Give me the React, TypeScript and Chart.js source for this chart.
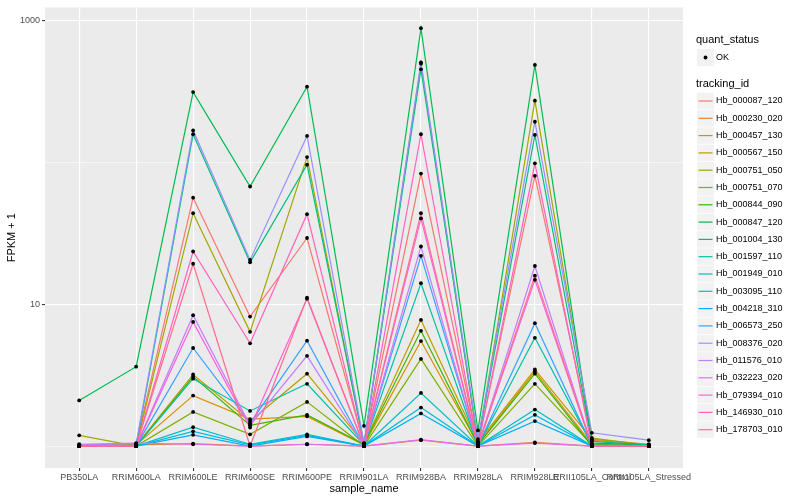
import { useEffect, useRef } from "react";
import { Chart, registerables } from "chart.js";

Chart.register(...registerables);

const categories = [
  "PB350LA",
  "RRIM600LA",
  "RRIM600LE",
  "RRIM600SE",
  "RRIM600PE",
  "RRIM901LA",
  "RRIM928BA",
  "RRIM928LA",
  "RRIM928LE",
  "RRII105LA_Control",
  "RRII105LA_Stressed",
];

const seriesNames = [
  "Hb_000087_120",
  "Hb_000230_020",
  "Hb_000457_130",
  "Hb_000567_150",
  "Hb_000751_050",
  "Hb_000751_070",
  "Hb_000844_090",
  "Hb_000847_120",
  "Hb_001004_130",
  "Hb_001597_110",
  "Hb_001949_010",
  "Hb_003095_110",
  "Hb_004218_310",
  "Hb_006573_250",
  "Hb_008376_020",
  "Hb_011576_010",
  "Hb_032223_020",
  "Hb_079394_010",
  "Hb_146930_010",
  "Hb_178703_010",
];

// FPKM + 1 per sample, in the order of `categories`
const hb_000087_120 = [1.02, 1.03, 56.6, 8.2, 29.4, 1.02, 83.8, 1.02, 80.7, 1.1, 1.02];
const hb_000230_020 = [1.0, 1.02, 1.04, 1.0, 1.03, 1.0, 1.1, 1.0, 1.06, 1.0, 1.0];
const hb_000457_130 = [1.01, 1.02, 2.27, 1.55, 1.62, 1.02, 5.51, 1.03, 3.36, 1.03, 1.01];
const hb_000567_150 = [1.0, 1.01, 3.2, 1.5, 3.24, 1.04, 7.77, 1.06, 3.47, 1.12, 1.03];
const hb_000751_050 = [1.19, 1.0, 44.0, 6.4, 109.6, 1.02, 500, 1.05, 274, 1.14, 1.01];
const hb_000751_070 = [1.0, 1.0, 1.74, 1.21, 2.05, 1.0, 4.12, 1.0, 2.75, 1.02, 1.0];
const hb_000844_090 = [1.01, 1.0, 3.09, 1.4, 1.66, 1.03, 6.51, 1.02, 3.24, 1.0, 1.0];
const hb_000847_120 = [2.1, 3.63, 315, 67.9, 344, 1.39, 889, 1.29, 490, 1.05, 1.02];
const hb_001004_130 = [1.0, 1.01, 158.7, 19.8, 96.8, 1.04, 456, 1.08, 157, 1.08, 1.02];
const hb_001597_110 = [1.0, 1.0, 2.99, 1.77, 2.75, 1.02, 14.1, 1.0, 5.81, 1.02, 1.0];
const hb_001949_010 = [1.0, 1.0, 1.36, 1.03, 1.21, 1.0, 2.37, 1.0, 1.81, 1.0, 1.0];
const hb_003095_110 = [1.0, 1.0, 1.27, 1.02, 1.19, 1.0, 1.87, 1.0, 1.66, 1.0, 1.0];
const hb_004218_310 = [1.0, 1.0, 1.2, 1.0, 1.17, 1.0, 1.7, 1.0, 1.5, 1.0, 1.0];
const hb_006573_250 = [1.0, 1.0, 4.92, 1.45, 5.54, 1.0, 22.0, 1.0, 7.36, 1.0, 1.0];
const hb_008376_020 = [1.02, 1.04, 169, 20.6, 154.5, 1.05, 511, 1.12, 194.5, 1.24, 1.1];
const hb_011576_010 = [1.0, 1.0, 8.38, 1.4, 4.33, 1.0, 25.6, 1.0, 18.65, 1.0, 1.0];
const hb_032223_020 = [1.03, 1.05, 1.03, 1.0, 1.03, 1.0, 1.11, 1.0, 1.05, 1.0, 1.0];
const hb_079394_010 = [1.0, 1.0, 7.52, 1.35, 10.96, 1.0, 40.4, 1.0, 14.9, 1.0, 1.0];
const hb_146930_010 = [1.0, 1.0, 23.6, 5.31, 43.3, 1.0, 158.7, 1.0, 98.9, 1.0, 1.0];
const hb_178703_010 = [1.0, 1.0, 19.35, 1.0, 11.14, 1.0, 44.0, 1.0, 15.95, 1.0, 1.0];

const seriesValues = [
  hb_000087_120,
  hb_000230_020,
  hb_000457_130,
  hb_000567_150,
  hb_000751_050,
  hb_000751_070,
  hb_000844_090,
  hb_000847_120,
  hb_001004_130,
  hb_001597_110,
  hb_001949_010,
  hb_003095_110,
  hb_004218_310,
  hb_006573_250,
  hb_008376_020,
  hb_011576_010,
  hb_032223_020,
  hb_079394_010,
  hb_146930_010,
  hb_178703_010,
];

const yTickValues = [1, 10, 100, 1000];
const yLabelled = [10, 1000];

const palette = [
  "#F8766D", "#EA8331", "#D89000", "#C09B00", "#A3A500",
  "#7CAE00", "#39B600", "#00BB4E", "#00BF7D", "#00C1A3",
  "#00BFC4", "#00BAE0", "#00B0F6", "#35A2FF", "#9590FF",
  "#C77CFF", "#E76BF3", "#FA62DB", "#FF62BC", "#FF6C91",
];

const FONT = '"Liberation Sans", Arial, Helvetica, sans-serif';

const bgPlugin = {
  id: "ggbg",
  beforeDraw(chart: any) {
    const { ctx, chartArea: a } = chart;
    ctx.save();
    ctx.fillStyle = "#FFFFFF";
    ctx.fillRect(0, 0, chart.width, chart.height);
    ctx.fillStyle = "#EBEBEB";
    ctx.fillRect(a.left, a.top, a.right - a.left, a.bottom - a.top);
    ctx.restore();
  },
};

const titlePlugin = {
  id: "ggtitles",
  afterDraw(chart: any) {
    const { ctx, chartArea: a } = chart;
    ctx.save();
    ctx.fillStyle = "#000000";
    ctx.font = `11px ${FONT}`;
    ctx.textAlign = "center";
    ctx.textBaseline = "middle";
    ctx.fillText("sample_name", (a.left + a.right) / 2, 488.5);
    ctx.translate(12, (a.top + a.bottom) / 2);
    ctx.rotate(-Math.PI / 2);
    ctx.fillText("FPKM + 1", 0, 0);
    ctx.restore();
  },
};

const legendPlugin = {
  id: "gglegend",
  afterDraw(chart: any) {
    const { ctx } = chart;
    ctx.save();
    ctx.textAlign = "left";
    ctx.textBaseline = "middle";
    ctx.fillStyle = "#000000";
    ctx.font = `11px ${FONT}`;
    ctx.fillText("quant_status", 696, 40);
    // OK key
    ctx.fillStyle = "#F2F2F2";
    ctx.fillRect(697, 49, 17, 17);
    ctx.fillStyle = "#000000";
    ctx.beginPath();
    ctx.arc(705.5, 57.5, 1.9, 0, Math.PI * 2);
    ctx.fill();
    ctx.font = `9px ${FONT}`;
    ctx.fillText("OK", 716, 57.5);

    ctx.font = `11px ${FONT}`;
    ctx.fillText("tracking_id", 696, 84);

    const step = 17.3;
    seriesNames.forEach((name, i) => {
      const cy = 101 + i * step;
      ctx.fillStyle = "#F2F2F2";
      ctx.fillRect(697, cy - 8.3, 17, 16.6);
      ctx.strokeStyle = palette[i];
      ctx.lineWidth = 1.2;
      ctx.beginPath();
      ctx.moveTo(698.5, cy);
      ctx.lineTo(712.5, cy);
      ctx.stroke();
      ctx.fillStyle = "#000000";
      ctx.font = `9px ${FONT}`;
      ctx.fillText(name, 716, cy);
    });
    ctx.restore();
  },
};

export default function App() {
  const canvasRef = useRef<HTMLCanvasElement | null>(null);

  useEffect(() => {
    if (!canvasRef.current) return;

    const lineSets = seriesValues.map((vals, i) => ({
      type: "line" as const,
      label: seriesNames[i],
      data: vals.map((v, j) => ({ x: j, y: v })),
      borderColor: palette[i],
      backgroundColor: palette[i],
      borderWidth: 1.2,
      pointRadius: 0,
      fill: false,
      tension: 0,
      order: 100 - i,
    }));

    const pointSets = seriesValues.map((vals, i) => ({
      type: "scatter" as const,
      label: seriesNames[i] + "_pts",
      data: vals.map((v, j) => ({ x: j, y: v })),
      showLine: false,
      pointRadius: 1.9,
      pointBackgroundColor: "#000000",
      pointBorderWidth: 0,
      pointBorderColor: "#000000",
      order: 0,
    }));

    const isMajor = (v: number) => yLabelled.includes(v);

    const chart = new Chart(canvasRef.current, {
      type: "line",
      data: { datasets: [...pointSets, ...lineSets] as any },
      options: {
        animation: false,
        responsive: false,
        events: [],
        layout: { padding: { left: 0, right: 117, top: 5, bottom: 0 } },
        plugins: {
          legend: { display: false },
          tooltip: { enabled: false },
        },
        scales: {
          x: {
            type: "linear",
            min: -0.6,
            max: categories.length - 1 + 0.6,
            afterBuildTicks: (s: any) => {
              s.ticks = categories.map((_, i) => ({ value: i }));
            },
            afterFit: (s: any) => {
              s.height = 32;
            },
            ticks: {
              autoSkip: false,
              maxRotation: 0,
              minRotation: 0,
              padding: 1,
              color: "#4D4D4D",
              font: { size: 9, family: FONT },
              callback: (v: any) => categories[v] ?? "",
            },
            grid: {
              color: "#FFFFFF",
              lineWidth: 1.1,
              tickLength: 3,
              tickColor: "#333333",
              tickWidth: 1.1,
            },
            border: { display: false },
          },
          y: {
            type: "logarithmic",
            min: 0.7125,
            max: 1247,
            afterBuildTicks: (s: any) => {
              s.ticks = yTickValues.map((v) => ({ value: v, major: isMajor(v) }));
            },
            afterFit: (s: any) => {
              s.width = 45;
            },
            ticks: {
              autoSkip: false,
              padding: 2,
              color: "#4D4D4D",
              font: { size: 9, family: FONT },
              callback: (v: any) => (isMajor(Number(v)) ? String(v) : ""),
            },
            grid: {
              color: "#FFFFFF",
              lineWidth: (c: any) => (isMajor(c.tick?.value) ? 1.1 : 0.55),
              tickLength: 3,
              tickColor: (c: any) => (isMajor(c.tick?.value) ? "#333333" : "rgba(0,0,0,0)"),
              tickWidth: 1.1,
            },
            border: { display: false },
          },
        },
      } as any,
      plugins: [bgPlugin, titlePlugin, legendPlugin],
    });

    return () => {
      chart.destroy();
    };
  }, []);

  return (
    <div style={{ position: "fixed", left: 0, top: 0, width: 800, height: 500, background: "#fff" }}>
      <canvas ref={canvasRef} width={800} height={500} style={{ display: "block" }} />
    </div>
  );
}
